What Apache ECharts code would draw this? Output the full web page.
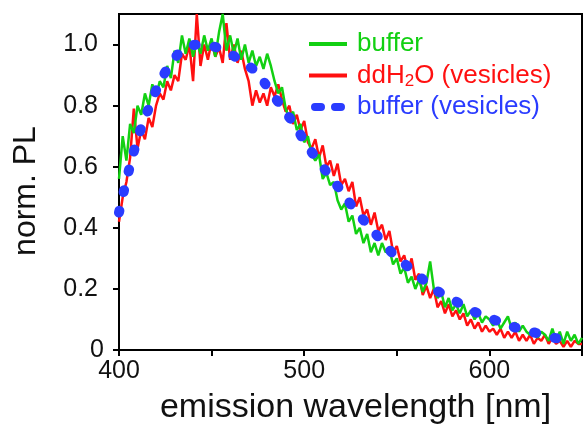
<!DOCTYPE html>
<html><head><meta charset="utf-8">
<script src="https://cdn.jsdelivr.net/npm/echarts@6/dist/echarts.min.js"></script>
<style>html,body{margin:0;padding:0;background:#fff}#c{width:584px;height:430px}</style>
</head><body><div id="c"></div>
<script>
// wavelength grid (nm) for the noisy spectra
const wavelengthNoisy = [400,402,404,406,408,410,412,414,416,418,420,422,424,426,428,430,432,434,436,438,
440,442,444,446,448,450,452,454,456,458,460,462,464,466,468,470,472,474,476,478,
480,482,484,486,488,490,492,494,496,498,500,502,504,506,508,510,512,514,516,518,
520,522,524,526,528,530,532,534,536,538,540,542,544,546,548,550,552,554,556,558,
560,562,564,566,568,570,572,574,576,578,580,582,584,586,588,590,592,594,596,598,
600,602,604,606,608,610,612,614,616,618,620,622,624,626,628,630,632,634,636,638,
640,642,644,646,648,650];
// "buffer" (green)
const bufferPL = [0.56,0.70,0.62,0.74,0.71,0.80,0.77,0.84,0.80,0.87,0.83,0.88,0.86,0.93,0.89,0.98,0.94,1.03,0.97,1.02,
0.96,1.01,0.97,1.03,0.98,1.02,0.96,1.04,1.10,0.98,1.03,0.97,1.02,0.95,1.00,0.94,0.98,0.93,0.96,0.92,
0.97,0.93,0.88,0.84,0.86,0.79,0.76,0.78,0.72,0.74,0.68,0.70,0.64,0.62,0.64,0.56,0.58,0.54,0.55,0.49,
0.46,0.48,0.42,0.44,0.38,0.40,0.35,0.38,0.32,0.35,0.31,0.35,0.32,0.33,0.28,0.30,0.25,0.27,0.22,0.24,
0.20,0.23,0.19,0.22,0.29,0.20,0.17,0.19,0.14,0.17,0.13,0.15,0.12,0.15,0.11,0.13,0.10,0.12,0.09,0.11,
0.10,0.08,0.10,0.07,0.09,0.11,0.07,0.09,0.06,0.08,0.06,0.05,0.07,0.04,0.06,0.05,0.03,0.07,0.03,0.06,
0.02,0.06,0.03,0.05,0.02,0.04];
// "ddH2O (vesicles)" (red)
const ddH2OVesiclesPL = [0.42,0.50,0.55,0.63,0.79,0.66,0.72,0.69,0.76,0.73,0.80,0.84,0.82,0.88,0.85,0.90,0.88,0.97,0.95,1.00,
0.88,1.10,0.93,1.00,0.95,1.01,0.96,0.99,0.94,1.07,0.95,1.00,0.94,0.98,0.92,0.88,0.80,0.85,0.81,0.84,
0.80,0.86,0.83,0.87,0.82,0.78,0.80,0.74,0.77,0.72,0.75,0.68,0.66,0.69,0.63,0.67,0.60,0.62,0.57,0.61,
0.54,0.56,0.52,0.55,0.47,0.50,0.44,0.46,0.41,0.45,0.39,0.41,0.36,0.39,0.32,0.34,0.29,0.31,0.26,0.30,
0.23,0.25,0.18,0.21,0.17,0.20,0.14,0.16,0.12,0.15,0.11,0.13,0.10,0.12,0.08,0.10,0.07,0.09,0.06,0.08,
0.06,0.07,0.05,0.07,0.04,0.06,0.04,0.06,0.03,0.05,0.03,0.05,0.02,0.04,0.03,0.05,0.02,0.04,0.02,0.03,
0.01,0.03,0.01,0.03,0.02,0.02];
// "buffer (vesicles)" (blue, smooth)
const wavelengthSmooth = [400,405,410,415,420,425,430,435,440,445,450,455,460,465,470,475,480,485,490,495,
500,505,510,515,520,525,530,535,540,545,550,555,560,565,570,575,580,585,590,595,
600,605,610,615,620,625,630,635,640,645];
const bufferVesiclesPL = [0.45,0.58,0.69,0.775,0.85,0.91,0.955,0.985,0.998,1.0,0.995,0.985,0.97,0.95,0.93,0.905,0.862,0.82,0.778,0.735,
0.685,0.64,0.60,0.56,0.52,0.478,0.44,0.405,0.37,0.335,0.302,0.278,0.253,0.226,0.20,0.183,0.166,0.148,0.13,0.118,
0.105,0.093,0.081,0.072,0.064,0.056,0.048,0.04,0.035,0.03];

const seriesNames = ['buffer','ddH2O (vesicles)','buffer (vesicles)'];
const xTickValues = [400,450,500,550,600,650];
const xLabelValues = [400,500,600];
const yTickValues = [0,0.2,0.4,0.6,0.8,1.0];

const GREEN = '#12d012', RED = '#ff1010', BLUE = '#2a3cff';
const FONT = 'Liberation Sans, Arial, sans-serif';
const zip = (xs, ys) => xs.map((x, i) => [x, ys[i]]);

const chart = echarts.init(document.getElementById('c'), null, {renderer: 'canvas'});
chart.setOption({
  animation: false,
  backgroundColor: '#fff',
  grid: {left: 119, right: 2, top: 14, bottom: 78, show: true, borderColor: '#000', borderWidth: 2},
  legend: {
    orient: 'vertical', left: 300, top: 25, itemWidth: 38, itemHeight: 14, itemGap: 3.5,
    itemStyle: {opacity: 0},
    textStyle: {fontFamily: FONT, fontSize: 26, lineHeight: 28, padding: [0, 0, 0, 5],
      rich: {
        r: {color: RED, fontFamily: FONT, fontSize: 26},
        s: {color: RED, fontFamily: FONT, fontSize: 17, verticalAlign: 'bottom', padding: [13, 0, 0, 0]}
      }},
    formatter: function (name) {
      if (name === seriesNames[1]) return '{r|ddH}{s|2}{r|O (vesicles)}';
      return name;
    },
    data: [
      {name: seriesNames[0], textStyle: {color: GREEN}, lineStyle: {width: 4}, itemStyle: {opacity: 0}},
      {name: seriesNames[1], textStyle: {color: RED}, lineStyle: {width: 4}, itemStyle: {opacity: 0}},
      {name: seriesNames[2], textStyle: {color: BLUE}, itemStyle: {opacity: 0},
        lineStyle: {width: 8, type: [6, 14], cap: 'round', dashOffset: -6}}
    ]
  },
  xAxis: {
    type: 'value', min: 400, max: 650, interval: 50,
    name: 'emission wavelength [nm]', nameLocation: 'middle', nameGap: 41,
    nameTextStyle: {fontFamily: FONT, fontSize: 34, color: '#111', padding: [0, 0, 0, 10]},
    axisLine: {lineStyle: {color: '#000', width: 2}},
    axisTick: {length: 6, lineStyle: {color: '#000', width: 2}, customValues: xTickValues},
    axisLabel: {fontFamily: FONT, fontSize: 25, color: '#111', margin: 9, customValues: xLabelValues},
    splitLine: {show: false}
  },
  yAxis: {
    type: 'value', min: 0, max: 1.1, interval: 0.2,
    name: 'norm. PL', nameLocation: 'middle', nameGap: 77,
    nameTextStyle: {fontFamily: FONT, fontSize: 32, color: '#111', padding: [0, 18, 0, 0]},
    axisLine: {lineStyle: {color: '#000', width: 2}},
    axisTick: {length: 6, lineStyle: {color: '#000', width: 2}, customValues: yTickValues},
    axisLabel: {fontFamily: FONT, fontSize: 25, color: '#111', margin: 15, customValues: yTickValues,
      formatter: v => v === 0 ? '0' : '{p|' + v.toFixed(1) + '}',
      rich: {p: {fontFamily: FONT, fontSize: 25, color: '#111', padding: [0, 6, 0, 0]}}},
    splitLine: {show: false}
  },
  series: [
    {name: seriesNames[1], type: 'line', symbol: 'none', z: 2, data: zip(wavelengthNoisy, ddH2OVesiclesPL),
      lineStyle: {color: RED, width: 2.5}, itemStyle: {color: RED}},
    {name: seriesNames[0], type: 'line', symbol: 'none', z: 3, data: zip(wavelengthNoisy, bufferPL),
      lineStyle: {color: GREEN, width: 2.5}, itemStyle: {color: GREEN}},
    {name: seriesNames[2], type: 'line', symbol: 'none', smooth: true, z: 4, data: zip(wavelengthSmooth, bufferVesiclesPL),
      lineStyle: {color: BLUE, width: 10, type: [2, 19], cap: 'round'}, itemStyle: {color: BLUE}}
  ]
});
</script></body></html>
